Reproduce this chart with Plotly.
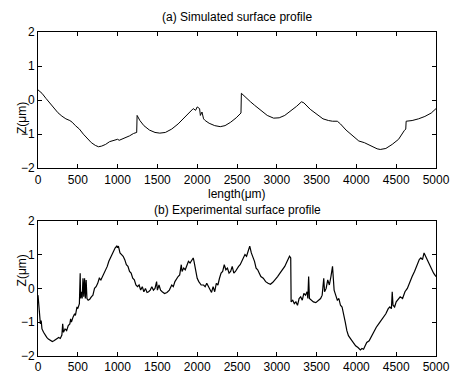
import plotly.graph_objects as go
from plotly.subplots import make_subplots

# (a) Simulated surface profile
xa = [0, 50, 100, 150, 200, 250, 300, 350, 400, 430, 470, 520, 570, 620, 670, 720, 760, 800, 850, 900,
      950, 1000, 1020, 1050, 1100, 1150, 1200, 1240, 1245, 1280, 1330, 1400, 1470, 1530, 1600, 1680,
      1760, 1840, 1900, 1950, 1980, 2000, 2030, 2040, 2060, 2080, 2100, 2150, 2220, 2290, 2350, 2420,
      2490, 2550, 2555, 2600, 2650, 2670, 2720, 2800, 2880, 2960, 3030, 3100, 3180, 3250, 3310, 3340,
      3420, 3500, 3580, 3650, 3700, 3760, 3800, 3870, 3950, 4030, 4100, 4180, 4260, 4300, 4370, 4450,
      4530, 4600, 4620, 4625, 4700, 4780, 4860, 4940, 5000]
ya = [0.3, 0.2, 0.05, -0.1, -0.25, -0.37, -0.47, -0.55, -0.6, -0.65, -0.75, -0.85, -1.0, -1.13, -1.25,
      -1.33, -1.37, -1.35, -1.3, -1.22, -1.18, -1.15, -1.18, -1.15, -1.12, -1.05, -0.98, -0.95, -0.45,
      -0.6, -0.75, -0.88, -0.95, -0.97, -0.95, -0.85, -0.7, -0.5, -0.35, -0.25, -0.3, -0.2, -0.25, -0.45,
      -0.35, -0.55, -0.6, -0.68, -0.75, -0.78, -0.75, -0.65, -0.52, -0.38, 0.2, 0.1, -0.03, -0.05, -0.15,
      -0.3, -0.45, -0.53, -0.52, -0.45, -0.32, -0.18, -0.05, -0.08, -0.27, -0.42, -0.55, -0.6, -0.62,
      -0.62, -0.7, -0.88, -1.05, -1.2, -1.25, -1.35, -1.43, -1.45, -1.42, -1.3, -1.15, -0.9, -0.85, -0.62,
      -0.6, -0.55, -0.48, -0.38, -0.25]

# (b) Experimental surface profile
xb = [0, 10, 20, 30, 40, 50, 70, 90, 110, 130, 150, 180, 200, 220, 240, 260, 280, 300, 310, 320, 340,
      360, 380, 400, 410, 420, 440, 460, 470, 490, 500, 520, 530, 535, 545, 555, 565, 575, 585, 595, 605,
      615, 630, 650, 670, 690, 710, 730, 750, 770, 790, 810, 830, 850, 870, 890, 910, 930, 950, 970, 990,
      1000, 1010, 1030, 1050, 1070, 1090, 1110, 1130, 1150, 1170, 1190, 1210, 1230, 1250, 1270, 1290,
      1310, 1330, 1350, 1370, 1390, 1410, 1430, 1450, 1470, 1490, 1500, 1520, 1540, 1560, 1590, 1620,
      1650, 1680, 1700, 1720, 1740, 1760, 1780, 1800, 1810, 1830, 1850, 1870, 1890, 1910, 1930, 1950,
      1960, 1980, 2000, 2020, 2050, 2080, 2100, 2120, 2140, 2160, 2180, 2200, 2220, 2240, 2260, 2280,
      2300, 2320, 2340, 2360, 2380, 2400, 2420, 2440, 2460, 2480, 2500, 2520, 2540, 2560, 2580, 2600,
      2620, 2640, 2660, 2680, 2700, 2720, 2740, 2760, 2780, 2800, 2830, 2860, 2890, 2920, 2950, 2980,
      3010, 3040, 3070, 3100, 3130, 3160, 3175, 3180, 3200, 3220, 3240, 3260, 3280, 3300, 3320, 3340,
      3360, 3380, 3390, 3400, 3410, 3430, 3460, 3490, 3520, 3550, 3570, 3590, 3600, 3620, 3640, 3660,
      3680, 3700, 3710, 3720, 3740, 3760, 3780, 3800, 3820, 3840, 3860, 3880, 3900, 3930, 3960, 3990,
      4020, 4050, 4070, 4090, 4110, 4130, 4160, 4190, 4220, 4250, 4280, 4310, 4340, 4370, 4400, 4420,
      4440, 4450, 4460, 4480, 4500, 4520, 4550, 4580, 4610, 4640, 4670, 4700, 4730, 4760, 4790, 4810,
      4830, 4850, 4870, 4890, 4910, 4940, 4970, 5000]
yb = [-0.2, -0.6, -0.9, -1.05, -0.95, -1.2, -1.3, -1.4, -1.45, -1.5, -1.53, -1.57, -1.55, -1.52, -1.5,
      -1.45, -1.48, -1.38, -1.05, -1.3, -1.2, -1.25, -1.1, -1.05, -0.9, -1.0, -0.85, -0.75, -0.8, -0.55,
      -0.6, -0.45, 0.45, -0.3, -0.1, -0.3, 0.3, -0.25, 0.3, -0.3, 0.25, -0.3, -0.35, -0.32, -0.25, -0.2,
      0.0, 0.05, 0.15, 0.3, 0.25, 0.35, 0.45, 0.55, 0.65, 0.8, 0.9, 1.0, 1.15, 1.2, 1.25, 1.2, 1.25, 1.05,
      1.0, 0.95, 0.85, 0.7, 0.65, 0.5, 0.45, 0.3, 0.25, 0.1, 0.05, 0.1, -0.05, 0.05, -0.1, 0.0, -0.12,
      -0.1, -0.05, 0.05, -0.05, 0.0, 0.2, -0.05, 0.1, -0.05, -0.1, -0.15, -0.12, -0.05, 0.1, 0.05, 0.2,
      0.3, 0.35, 0.4, 0.7, 0.5, 0.6, 0.55, 0.65, 0.8, 0.75, 0.85, 0.9, 0.8, 0.55, 0.3, 0.2, 0.1, 0.1,
      0.05, 0.15, 0.05, -0.05, -0.12, 0.05, -0.1, 0.15, 0.1, 0.3, 0.45, 0.5, 0.7, 0.55, 0.6, 0.45, 0.5,
      0.65, 0.45, 0.5, 0.6, 0.65, 0.7, 0.8, 0.85, 1.0, 0.95, 1.1, 1.25, 1.05, 0.95, 0.8, 0.6, 0.55, 0.45,
      0.35, 0.3, 0.2, 0.15, 0.12, 0.18, 0.25, 0.35, 0.45, 0.55, 0.65, 0.8, 0.95, 0.9, -0.4, -0.35, -0.45,
      -0.4, -0.5, -0.3, -0.25, -0.35, -0.15, -0.2, -0.1, -0.3, 0.35, -0.3, -0.35, -0.4, -0.42, -0.35,
      -0.3, -0.2, 0.3, -0.1, 0.0, 0.25, 0.1, 0.35, 0.65, 0.3, -0.05, -0.2, -0.35, -0.3, -0.5, -0.55,
      -0.75, -1.0, -1.25, -1.4, -1.5, -1.6, -1.7, -1.75, -1.82, -1.78, -1.8, -1.7, -1.6, -1.55, -1.4,
      -1.3, -1.15, -1.05, -0.95, -0.85, -0.75, -0.6, -0.55, -0.6, -0.1, -0.5, -0.55, -0.4, -0.35, -0.25,
      -0.3, -0.1, 0.0, 0.2, 0.35, 0.5, 0.7, 0.85, 0.9, 0.85, 1.05, 0.95, 0.8, 0.7, 0.6, 0.45, 0.35]

x_ticks = [0, 500, 1000, 1500, 2000, 2500, 3000, 3500, 4000, 4500, 5000]
y_ticks = [-2, -1, 0, 1, 2]
title_a = "(a) Simulated surface profile"
title_b = "(b) Experimental surface profile"
x_label = "length(μm)"
y_label = "Z(μm)"

FONT = "Liberation Sans, Arial, sans-serif"

fig = make_subplots(rows=2, cols=1)
fig.add_trace(go.Scatter(x=xa, y=ya, mode="lines", line=dict(color="black", width=1)), row=1, col=1)
fig.add_trace(go.Scatter(x=xb, y=yb, mode="lines", line=dict(color="black", width=1.2)), row=2, col=1)

axis_common = dict(showline=True, linecolor="black", linewidth=1, mirror="ticks", ticks="inside",
                   ticklen=4, tickcolor="black", showgrid=False, zeroline=False,
                   tickfont=dict(family=FONT, size=12, color="black"))
fig.update_xaxes(range=[0, 5000], tickvals=x_ticks, ticklabeloverflow="allow", **axis_common)
fig.update_yaxes(range=[-2, 2], tickvals=y_ticks, **axis_common)
fig.update_layout(
    xaxis=dict(domain=[0, 1]), yaxis=dict(domain=[0.5796, 1]),
    xaxis2=dict(domain=[0, 1]), yaxis2=dict(domain=[0, 0.4174]),
)

ann = [
    dict(text=title_a, x=0.5, y=1.045, xref="paper", yref="paper", showarrow=False, yanchor="middle"),
    dict(text=x_label, x=0.5, y=0.4985, xref="paper", yref="paper", showarrow=False, yanchor="middle"),
    dict(text=title_b, x=0.5, y=0.452, xref="paper", yref="paper", showarrow=False, yanchor="middle"),
    dict(text=y_label, x=0, xshift=-25, y=0.79, xref="paper", yref="paper", showarrow=False,
         textangle=-90),
    dict(text=y_label, x=0, xshift=-25, y=0.2087, xref="paper", yref="paper", showarrow=False,
         textangle=-90),
]
for a in ann:
    a["font"] = dict(family=FONT, size=12, color="black")
fig.update_layout(
    annotations=ann,
    width=462, height=386,
    margin=dict(l=38, r=14, t=32, b=21),
    paper_bgcolor="white", plot_bgcolor="white",
    showlegend=False,
)
fig.write_html("out.html")
